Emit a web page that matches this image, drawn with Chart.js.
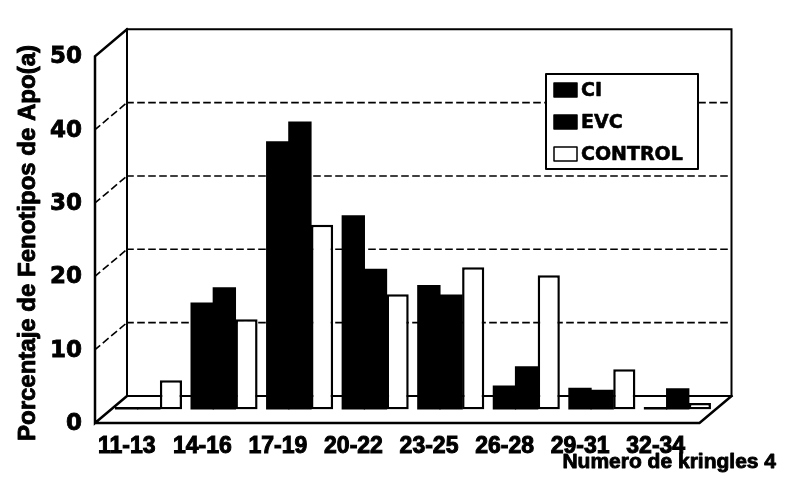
<!DOCTYPE html>
<html>
<head>
<meta charset="utf-8">
<script src="https://cdn.jsdelivr.net/npm/chart.js@4.4.0/dist/chart.umd.min.js"></script>
<style>
  body { margin: 0; background: #fff; }
  canvas { display: block; }
</style>
</head>
<body>
<canvas id="chart" width="786" height="487"></canvas>
<script>
const categories = ['11-13', '14-16', '17-19', '20-22', '23-25', '26-28', '29-31', '32-34'];
const ciValues      = [0,   14.5, 36.5, 26.4, 16.9, 3.2,  2.9, 0];
const evcValues     = [0,   16.6, 39.2, 19.1, 15.6, 5.8,  2.6, 2.8];
const controlValues = [4.0, 12.3, 25.2, 15.7, 19.4, 18.3, 5.5, 0.9];
const gridValues = [10, 20, 30, 40];
const yTitle = 'Porcentaje de Fenotipos de Apo(a)';
const xTitle = 'Numero de kringles 4';

// depth of the fake 3d box (bars sit in the middle plane)
const DX = 16, DY = 13.5;

function qs(id){return document.getElementById(id);}

// filled text with a thin outline, the scan looks heavier than plain bold
function boldText(ctx, txt, x, y, w){
  ctx.lineWidth = w;
  ctx.strokeStyle = '#000';
  ctx.lineJoin = 'round';
  ctx.strokeText(txt, x, y);
  ctx.fillText(txt, x, y);
}

const boxPlugin = {
  id: 'box3d',
  beforeDatasetsDraw(chart){
    const {ctx, chartArea: a, scales: {y}} = chart;
    const bL = a.left + DX, bR = a.right + DX, bT = a.top - DY, bB = a.bottom - DY;
    const fL = a.left - DX, fR = a.right - DX, fT = a.top + DY, fB = a.bottom + DY;
    ctx.save();
    ctx.strokeStyle = '#000';
    ctx.lineCap = 'square';

    // dashed grid on back wall and left wall
    ctx.lineWidth = 1.6;
    ctx.setLineDash([6, 5]);
    gridValues.forEach(v=>{
      const py = y.getPixelForValue(v);
      ctx.beginPath();
      ctx.moveTo(bL, py - DY); ctx.lineTo(bR, py - DY);
      ctx.moveTo(fL, py + DY); ctx.lineTo(bL, py - DY);
      ctx.stroke();
    });
    ctx.setLineDash([]);

    // back wall
    ctx.lineWidth = 2;
    ctx.beginPath();
    ctx.moveTo(bL, bB); ctx.lineTo(bL, bT); ctx.lineTo(bR, bT); ctx.lineTo(bR, bB);
    ctx.lineTo(bL, bB);
    ctx.stroke();

    // left wall + floor
    ctx.lineWidth = 2.5;
    ctx.beginPath();
    ctx.moveTo(bL, bT); ctx.lineTo(fL, fT); ctx.lineTo(fL, fB); ctx.lineTo(bL, bB);
    ctx.moveTo(fL, fB); ctx.lineTo(fR, fB); ctx.lineTo(bR, bB);
    ctx.stroke();
    ctx.restore();
  },
  afterDraw(chart){
    const {ctx} = chart;
    ctx.save();
    ctx.fillStyle = '#000';

    // axis titles
    ctx.font = 'bold 24px "Liberation Sans", Arial, sans-serif';
    ctx.textAlign = 'center';
    ctx.textBaseline = 'alphabetic';
    ctx.translate(35, 243);
    ctx.rotate(-Math.PI/2);
    boldText(ctx, yTitle, 0, 0, 0.9);
    ctx.setTransform(1, 0, 0, 1, 0, 0);

    ctx.font = 'bold 21px "Liberation Sans", Arial, sans-serif';
    ctx.textAlign = 'right';
    boldText(ctx, xTitle, 776, 468, 0.9);

    // legend
    const lx = 546, ly = 74, lw = 152, lh = 95;
    ctx.fillStyle = '#fff';
    ctx.fillRect(lx, ly, lw, lh);
    ctx.strokeStyle = '#000';
    ctx.lineWidth = 2;
    ctx.strokeRect(lx, ly, lw, lh);
    ctx.font = 'bold 19px "DejaVu Sans", sans-serif';
    ctx.textAlign = 'left';
    ctx.textBaseline = 'middle';
    const rows = [90, 122, 154];
    chart.data.datasets.forEach((ds, i)=>{
      const cy = rows[i];
      ctx.fillStyle = ds.backgroundColor;
      ctx.fillRect(554, cy - 7, 23, 14);
      ctx.lineWidth = 1.5;
      ctx.strokeRect(554, cy - 7, 23, 14);
      ctx.fillStyle = '#000';
      boldText(ctx, ds.label, 581, cy + 1, 0.6);
    });
    ctx.restore();
  }
};

Chart.defaults.color = '#000';

function barSet(label, data, fill, border){
  return {
    label, data,
    backgroundColor: fill,
    borderColor: '#000',
    borderWidth: border,
    borderSkipped: false,
    inflateAmount: border ? 0 : 0.6,
    minBarLength: 2,
    categoryPercentage: 0.88,
    barPercentage: 1
  };
}

const chart = new Chart(qs('chart').getContext('2d'), {
  type: 'bar',
  data: {
    labels: categories,
    datasets: [
      barSet('CI', ciValues, '#000', 0),
      barSet('EVC', evcValues, '#000', 0),
      barSet('CONTROL', controlValues, '#fff', 2.5)
    ]
  },
  options: {
    responsive: false,
    animation: false,
    devicePixelRatio: 1,
    layout: { padding: { top: 30.5, right: 70.5, left: 0, bottom: 0 } },
    plugins: { legend: { display: false }, tooltip: { enabled: false } },
    scales: {
      x: {
        grid: { display: false, drawTicks: false },
        border: { display: false },
        ticks: {
          padding: 23,
          labelOffset: -22,
          maxRotation: 0,
          autoSkip: false,
          textStrokeColor: '#000',
          textStrokeWidth: 1,
          font: { family: '"Liberation Sans", Arial, sans-serif', size: 23, weight: 'bold' }
        },
        afterFit: s => { s.height = 77.5; }
      },
      y: {
        min: 0, max: 50,
        grid: { display: false, drawTicks: false },
        border: { display: false },
        ticks: {
          stepSize: 10,
          padding: 29,
          labelOffset: 14.5,
          textStrokeColor: '#000',
          textStrokeWidth: 0.8,
          font: { family: '"DejaVu Sans", sans-serif', size: 23, weight: 'bold' }
        },
        afterFit: s => { s.width = 111; }
      }
    }
  },
  plugins: [boxPlugin]
});
</script>
</body>
</html>
